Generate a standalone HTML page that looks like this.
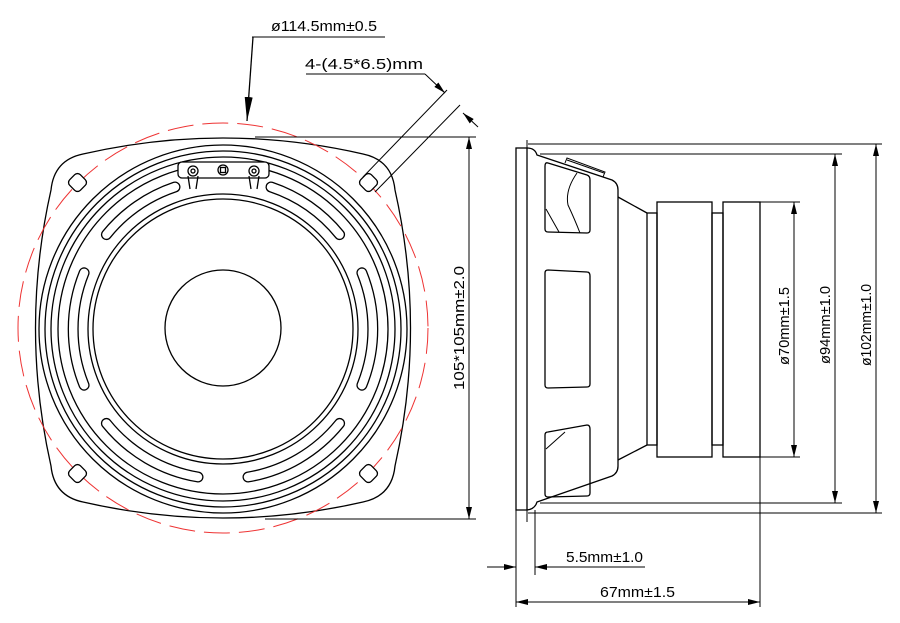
<!DOCTYPE html>
<html><head><meta charset="utf-8"><style>
html,body{margin:0;padding:0;background:#fff;}
svg{display:block;}
text{font-family:"Liberation Sans",sans-serif;font-size:15px;fill:#000;}
</style></head><body>
<svg width="900" height="623" viewBox="0 0 900 623" xmlns="http://www.w3.org/2000/svg">
<defs>
<marker id="a" viewBox="0 0 12 6" refX="12" refY="3" markerWidth="12" markerHeight="6" markerUnits="userSpaceOnUse" orient="auto-start-reverse">
<path d="M0,0 L12,3 L0,6 Z" fill="#000"/></marker>
<marker id="b" viewBox="0 0 24 8" refX="24" refY="4" markerWidth="24" markerHeight="8" markerUnits="userSpaceOnUse" orient="auto">
<path d="M0,0 L24,4 L0,8 Z" fill="#000"/></marker>
</defs>
<g fill="none" stroke="#000" stroke-width="1.3">
<path d="M83,154 Q223,122 363,154 Q392,160 395,190 Q426,328 395,466 Q392,496 363,502 Q223,534 83,502 Q54,496 51,466 Q20,328 51,190 Q54,160 83,154 Z"/>
<circle cx="223" cy="328" r="205" stroke="#e33" stroke-width="1" stroke-dasharray="26,9"/>
<circle cx="223" cy="329" r="184"/>
<circle cx="223" cy="329" r="178"/>
<circle cx="223" cy="329" r="172"/>
<circle cx="223" cy="329" r="165"/>
<circle cx="223" cy="329" r="135"/>
<circle cx="223" cy="329" r="130"/>
<circle cx="223" cy="328" r="58"/>
</g>
<g fill="none" stroke-linecap="round">
<g stroke="#000" stroke-width="11">
<path d="M361.9,272.8 A150,150 0 0 1 361.9,385.2"/>
<path d="M84.1,272.8 A150,150 0 0 0 84.1,385.2"/>
<path d="M106.4,423.4 A150,150 0 0 0 198,477"/>
<path d="M339.6,423.4 A150,150 0 0 1 248,477"/>
<path d="M106.4,234.6 A150,150 0 0 1 175,187"/>
<path d="M339.6,234.6 A150,150 0 0 0 271,187"/>
</g>
<g stroke="#fff" stroke-width="8.4">
<path d="M361.9,272.8 A150,150 0 0 1 361.9,385.2"/>
<path d="M84.1,272.8 A150,150 0 0 0 84.1,385.2"/>
<path d="M106.4,423.4 A150,150 0 0 0 198,477"/>
<path d="M339.6,423.4 A150,150 0 0 1 248,477"/>
<path d="M106.4,234.6 A150,150 0 0 1 175,187"/>
<path d="M339.6,234.6 A150,150 0 0 0 271,187"/>
</g>
</g>
<g fill="#fff" stroke="#000" stroke-width="1.3">
<rect x="178" y="162" width="91" height="16" rx="4"/>
<path d="M188,176 L190,189 M198,176 L196,189 M249,176 L251,189 M259,176 L257,189"/>
<circle cx="193" cy="171" r="5"/><circle cx="193" cy="171" r="2"/>
<circle cx="254" cy="171" r="5"/><circle cx="254" cy="171" r="2"/>
<circle cx="223" cy="170" r="5"/><rect x="220.5" y="167.5" width="5" height="5"/>
<rect x="70" y="175" width="15" height="15" rx="4" transform="rotate(45 77.5 182.5)"/>
<rect x="361" y="175" width="15" height="15" rx="4" transform="rotate(45 368.5 182.5)"/>
<rect x="70" y="466" width="15" height="15" rx="4" transform="rotate(45 77.5 473.5)"/>
<rect x="361" y="466" width="15" height="15" rx="4" transform="rotate(45 368.5 473.5)"/>
</g>
<g fill="none" stroke="#000" stroke-width="1">
<line x1="363" y1="177" x2="447" y2="90"/>
<line x1="375" y1="192" x2="460" y2="105"/>
<line x1="306" y1="74" x2="425" y2="74"/>
<line x1="425" y1="74" x2="445" y2="93" marker-end="url(#a)"/>
<line x1="478" y1="127" x2="463" y2="113" marker-end="url(#a)"/>
<line x1="252" y1="37" x2="385" y2="37"/>
<line x1="253" y1="37" x2="247" y2="121" marker-end="url(#b)" stroke-width="1.3"/>
<line x1="255" y1="137" x2="476" y2="137"/>
<line x1="265" y1="519" x2="476" y2="519"/>
<line x1="469" y1="137" x2="469" y2="519" marker-start="url(#a)" marker-end="url(#a)"/>
</g>
<text x="271" y="31" textLength="106" lengthAdjust="spacingAndGlyphs">ø114.5mm±0.5</text>
<text x="305" y="69" textLength="118" lengthAdjust="spacingAndGlyphs">4-(4.5*6.5)mm</text>
<text transform="translate(464,328) rotate(-90)" text-anchor="middle" textLength="124" lengthAdjust="spacingAndGlyphs">105*105mm±2.0</text>

<g fill="none" stroke="#000" stroke-width="1.3">
<rect x="516" y="148" width="11" height="362"/>
<line x1="527" y1="140" x2="527" y2="522" stroke-width="1"/>
<path d="M527,148 Q535,148 537,155 L612,180 Q618,183 618,190 L618,466 Q618,473 612,476 L537,502 Q535,509 527,510"/>
<path d="M618,197 L647,213 M618,460 L647,445"/>
<rect x="647" y="213" width="10" height="232"/>
<rect x="657" y="202" width="55" height="255"/>
<rect x="712" y="213" width="11" height="232"/>
<rect x="723" y="202" width="37" height="255"/>
<path d="M548,163 L587,175 Q590,176 590,180 L590,230 Q590,233 587,233 L548,232 Q545,232 545,229 L545,166 Q545,162 548,163 Z"/>
<path d="M548,270 L587,272 Q590,272 590,276 L590,384 Q590,387 587,387 L548,388 Q545,388 545,385 L545,273 Q545,270 548,270 Z"/>
<path d="M548,432 L587,425 Q590,425 590,429 L590,493 Q590,496 587,496 L548,497 Q545,497 545,494 L545,435 Q545,432 548,432 Z"/>
<path d="M577,173 Q565,190 568,205 Q575,220 580,233 M546,209 L559,232 M546,449 L565,432" stroke-width="1"/>
<path d="M565,163 L567,158 L605,172 L603,177" stroke-width="1"/>
<line x1="567" y1="160" x2="604" y2="173" stroke-width="1"/>
</g>
<g fill="none" stroke="#000" stroke-width="1">
<line x1="528" y1="144" x2="882" y2="144"/>
<line x1="540" y1="154" x2="842" y2="154"/>
<line x1="540" y1="503" x2="842" y2="503"/>
<line x1="528" y1="513" x2="882" y2="513"/>
<line x1="760" y1="202" x2="800" y2="202"/>
<line x1="760" y1="457" x2="800" y2="457"/>
<line x1="760" y1="457" x2="760" y2="607"/>
<line x1="516" y1="510" x2="516" y2="607"/>
<line x1="535" y1="510" x2="535" y2="575"/>
<line x1="876" y1="144" x2="876" y2="513" marker-start="url(#a)" marker-end="url(#a)"/>
<line x1="835" y1="154" x2="835" y2="503" marker-start="url(#a)" marker-end="url(#a)"/>
<line x1="794" y1="202" x2="794" y2="457" marker-start="url(#a)" marker-end="url(#a)"/>
<line x1="487" y1="567" x2="516" y2="567" marker-end="url(#a)"/>
<line x1="645" y1="567" x2="535" y2="567" marker-end="url(#a)"/>
<line x1="516" y1="602" x2="760" y2="602" marker-start="url(#a)" marker-end="url(#a)"/>
</g>
<text transform="translate(789,326) rotate(-90)" text-anchor="middle" textLength="78" lengthAdjust="spacingAndGlyphs">ø70mm±1.5</text>
<text transform="translate(830,325) rotate(-90)" text-anchor="middle" textLength="78" lengthAdjust="spacingAndGlyphs">ø94mm±1.0</text>
<text transform="translate(871,325) rotate(-90)" text-anchor="middle" textLength="82" lengthAdjust="spacingAndGlyphs">ø102mm±1.0</text>
<text x="566" y="562" textLength="77" lengthAdjust="spacingAndGlyphs">5.5mm±1.0</text>
<text x="600" y="597" textLength="75" lengthAdjust="spacingAndGlyphs">67mm±1.5</text>
</svg>
</body></html>
